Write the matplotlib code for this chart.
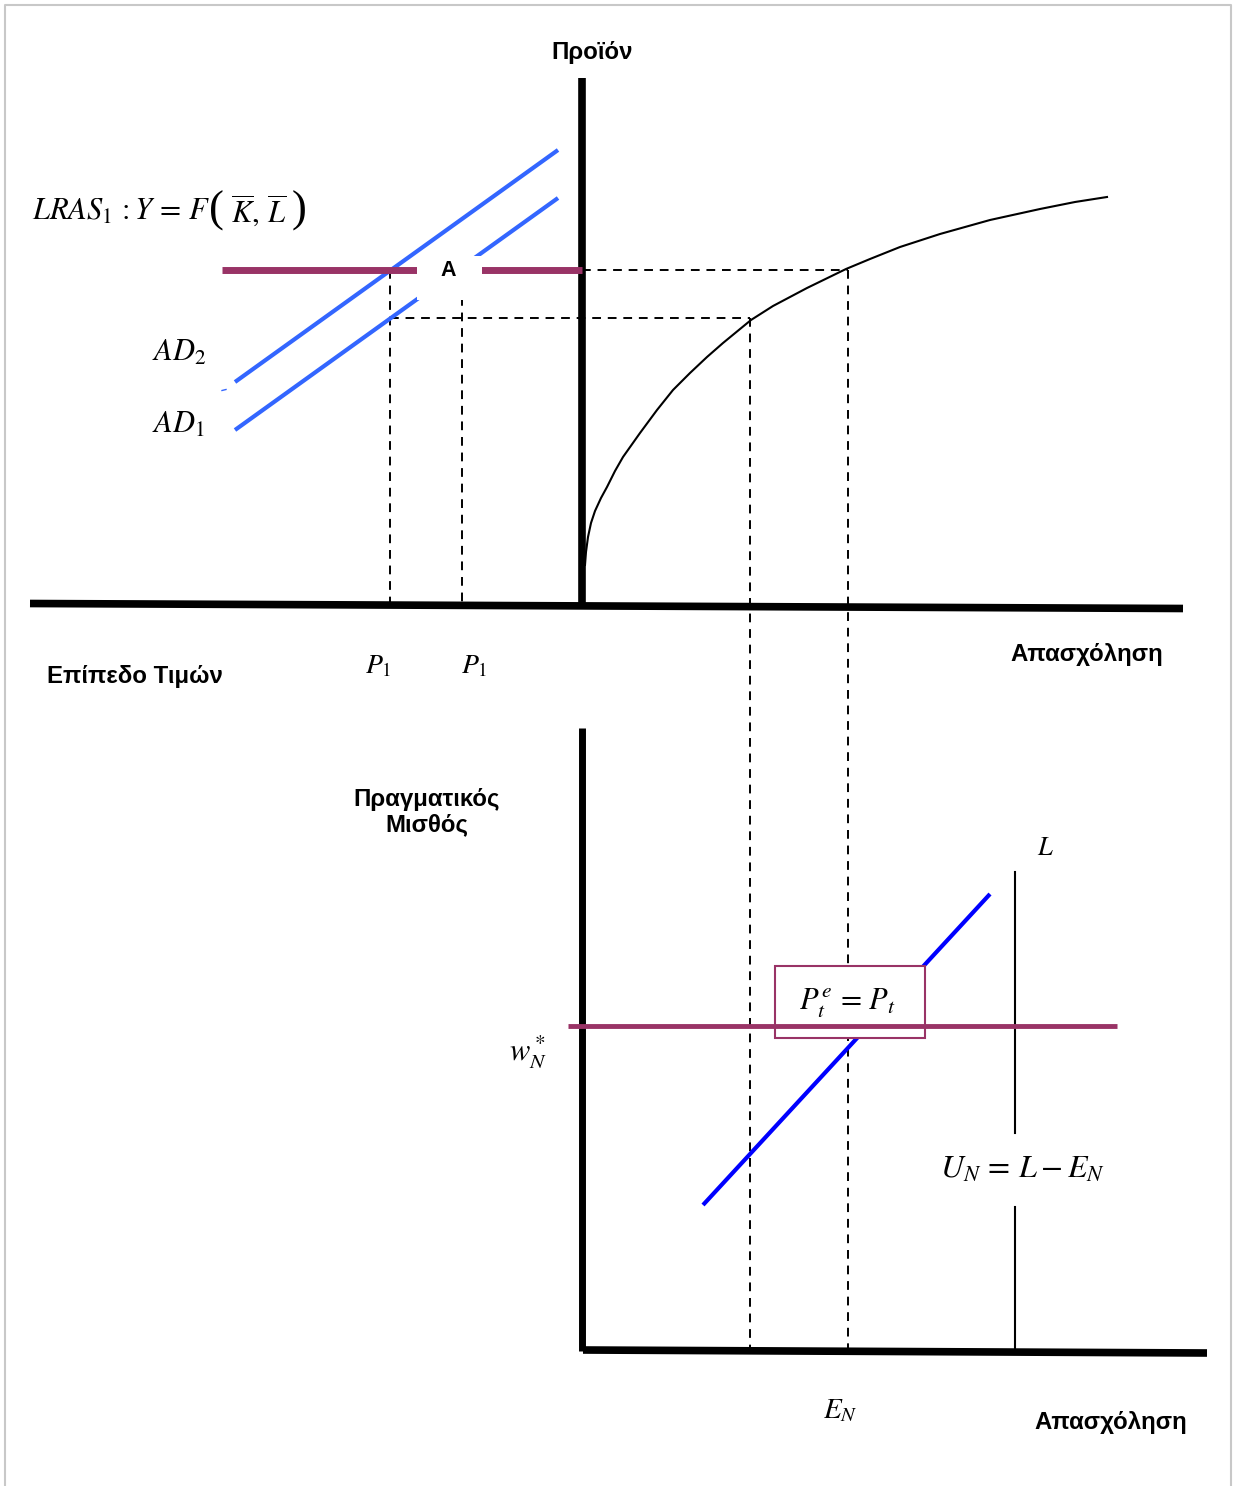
import matplotlib
matplotlib.use("Agg")
import matplotlib.pyplot as plt
from matplotlib.patches import Rectangle

plt.rcParams["font.family"] = ["Liberation Sans", "DejaVu Sans"]
plt.rcParams["mathtext.fontset"] = "stix"

MAROON = "#993366"
AD_BLUE = "#3366ff"
LS_BLUE = "#0000ff"

# ── geometry (pixel units, y down) ───────────────────────────────────────
# top panel: production function Y = F(K, L)
prod_x = [585, 586, 588, 591, 595, 601, 607, 615, 623, 640, 657, 673, 690, 707,
          723, 751, 773, 807, 846, 870, 900, 940, 990, 1040, 1075, 1107]
prod_y = [565, 552, 537, 523, 511, 498, 487, 471, 457, 433, 410, 390, 373, 357,
          343, 320, 306, 288, 269, 259, 247, 234, 220, 209, 202, 197]

# aggregate demand lines (x pairs, y pairs)
ad2_x, ad2_y = [235, 558], [382, 150]
ad1_x, ad1_y = [235, 558], [430, 198]
lras_y = 270
lras_x = [222, 582]

# price levels on the horizontal axis and output levels on the vertical one
p_levels = [390, 462]
y_levels = [270, 318]
e_levels = [750, 848]   # employment levels linking both panels

# bottom panel: labour market
ls_x, ls_y = [703, 990], [1205, 894]
w_star = 1026
w_x = [568, 1117]
labour_force = 1015
box = (775, 966, 150, 72)   # x, y, width, height

LABEL_FS = 17.3

fig = plt.figure(figsize=(12.34, 14.86), dpi=100)
ax = fig.add_axes([0, 0, 1, 1])
ax.set_xlim(0, 1234)
ax.set_ylim(1486, 0)
ax.axis("off")

# light frame
ax.plot([5, 5, 1231, 1231], [1486, 5, 5, 1486], color="#c8c8c8", lw=1.5)

dash = dict(color="black", lw=1.4, ls=(0, (4.5, 3.5)))

# ── top panel ────────────────────────────────────────────────────────────
ax.plot([582, 582], [78, 606], color="black", lw=5.5, solid_capstyle="butt")
ax.plot([30, 1183], [603.5, 608.5], color="black", lw=5.5, solid_capstyle="butt")

ax.plot(prod_x, prod_y, color="black", lw=1.5)

# dashed guides
ax.plot([p_levels[0]] * 2, [y_levels[0], 603], **dash)
ax.plot([p_levels[1]] * 2, [297, 603], **dash)
ax.plot([p_levels[0], e_levels[0]], [y_levels[1]] * 2, **dash)
ax.plot([582, e_levels[1]], [y_levels[0]] * 2, **dash)
ax.plot([e_levels[0]] * 2, [y_levels[1], 1350], **dash)
ax.plot([e_levels[1]] * 2, [y_levels[0], 1350], **dash)

ax.plot(ad2_x, ad2_y, color=AD_BLUE, lw=3, solid_capstyle="butt")
ax.plot(ad1_x, ad1_y, color=AD_BLUE, lw=3, solid_capstyle="butt")
ax.plot([222, 226], [390.5, 389.5], color=AD_BLUE, lw=1)
ax.plot(lras_x, [lras_y] * 2, color=MAROON, lw=5, solid_capstyle="butt")

# white label patch for point A
ax.add_patch(Rectangle((417, 256), 65, 44, facecolor="white", edgecolor="none", zorder=3))
ax.text(448, 271, "A", fontsize=15.5, fontweight="bold", ha="center", va="center", zorder=4)

ax.text(592, 52, "Προϊόν", fontsize=LABEL_FS, fontweight="bold", ha="center", va="center")
ax.text(135, 676, "Επίπεδο Τιμών", fontsize=LABEL_FS, fontweight="bold", ha="center", va="center")
ax.text(1087, 655, "Απασχόληση", fontsize=LABEL_FS, fontweight="bold", ha="center", va="center")

# LRAS formula, pieced together so the brackets can be tall
ax.text(32, 212, r"$LRAS_1\,:Y\,=\,F$", fontsize=22, ha="left", va="center")
ax.text(216, 211, "(", fontsize=32, family="Liberation Serif", ha="center", va="center")
ax.text(231, 212, r"$\overline{K},\,\overline{L}$", fontsize=22, ha="left", va="center")
ax.text(299, 211, ")", fontsize=32, family="Liberation Serif", ha="center", va="center")

ax.text(152, 353, r"$AD_2$", fontsize=22, ha="left", va="center")
ax.text(152, 425, r"$AD_1$", fontsize=22, ha="left", va="center")
ax.text(378, 666, r"$P_1$", fontsize=20, ha="center", va="center")
ax.text(474, 666, r"$P_1$", fontsize=20, ha="center", va="center")

# ── bottom panel ─────────────────────────────────────────────────────────
ax.plot([582, 582], [728, 1351], color="black", lw=5, solid_capstyle="butt")
ax.plot([583, 1207], [1350, 1353], color="black", lw=5.5, solid_capstyle="butt")

ax.plot([labour_force] * 2, [872, 1133], color="black", lw=1.5)
ax.plot([labour_force] * 2, [1207, 1350], color="black", lw=1.5)

ax.plot(ls_x, ls_y, color=LS_BLUE, lw=3, solid_capstyle="butt")

bx, by, bw, bh = box
ax.add_patch(Rectangle((bx, by), bw, bh, facecolor="white", edgecolor=MAROON, lw=1.5, zorder=3))
ax.plot(w_x, [w_star] * 2, color=MAROON, lw=3.5, solid_capstyle="butt", zorder=4)
ax.text(bx + bw / 2 - 3, 1003, r"$P_t^e\,=\,P_t$", fontsize=22, ha="center", va="center", zorder=5)

ax.text(427, 812, "Πραγματικός\nΜισθός", fontsize=LABEL_FS, fontweight="bold",
        ha="center", va="center", linespacing=1.1)
ax.text(528, 1052, r"$w_N^*$", fontsize=22, ha="center", va="center")
ax.text(1045, 848, r"$L$", fontsize=19, ha="center", va="center")
ax.text(1023, 1170, r"$U_N\,=\,L-E_N$", fontsize=23, ha="center", va="center")
ax.text(840, 1410, r"$E_N$", fontsize=21, ha="center", va="center")
ax.text(1111, 1422, "Απασχόληση", fontsize=LABEL_FS, fontweight="bold", ha="center", va="center")

fig.savefig("out.png", dpi=100, facecolor="white")
